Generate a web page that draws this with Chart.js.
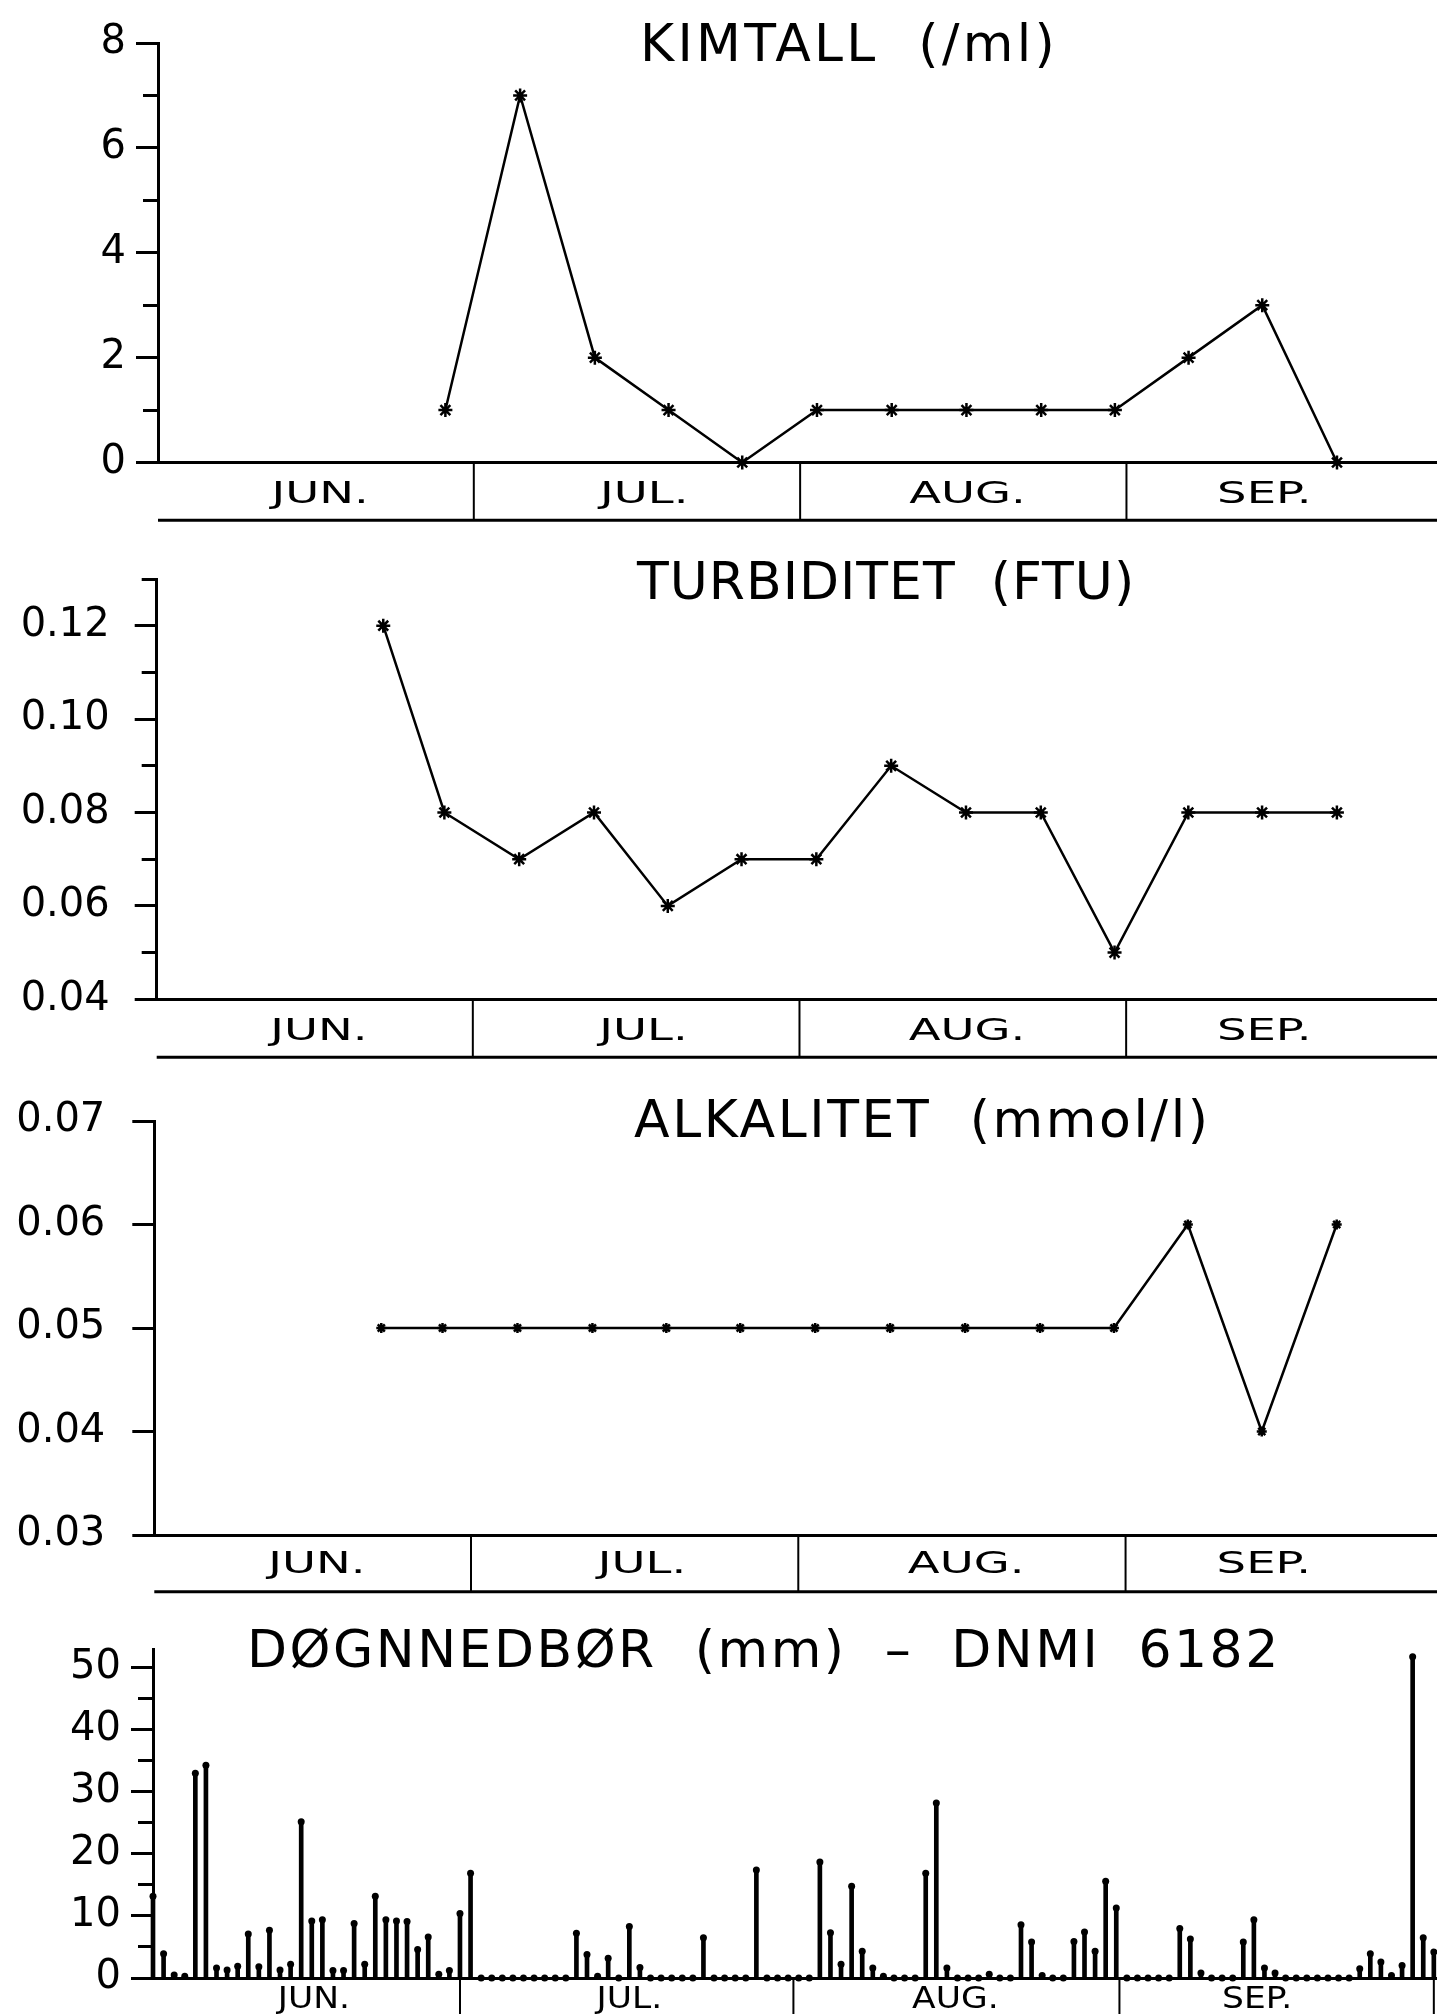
<!DOCTYPE html>
<html>
<head>
<meta charset="utf-8">
<title>Kimtall, turbiditet, alkalitet og døgnnedbør</title>
<script src="https://cdn.jsdelivr.net/npm/chart.js@4.4.1/dist/chart.umd.min.js"></script>
<style>
  html, body { margin: 0; padding: 0; background: #fff; overflow: hidden; }
  #page { position: relative; width: 1437px; height: 2014px; }
  canvas { position: absolute; left: 0; }
</style>
</head>
<body>
<div id="page">
  <canvas id="kimtallChart" width="1437" height="530" style="top:0px"></canvas>
  <canvas id="turbChart" width="1437" height="540" style="top:530px"></canvas>
  <canvas id="alkChart" width="1437" height="540" style="top:1070px"></canvas>
  <canvas id="rainChart" width="1437" height="404" style="top:1610px"></canvas>
</div>
<script>
// prøvedager (dager etter 1. juni)
const sampleDays = [21.5, 27.3, 34.4, 41.5, 48.5, 55.5, 62.6, 69.7, 76.8, 83.9, 90.9, 97.9, 104.9, 112.0];
const kimtall    = [null, 1, 7, 2, 1, 0, 1, 1, 1, 1, 1, 2, 3, 0];
const turbiditet = [0.12, 0.08, 0.07, 0.08, 0.06, 0.07, 0.07, 0.09, 0.08, 0.08, 0.05, 0.08, 0.08, 0.08];
const alkalitet  = [0.05, 0.05, 0.05, 0.05, 0.05, 0.05, 0.05, 0.05, 0.05, 0.05, 0.05, 0.06, 0.04, 0.06];

// månedsrad
const months = ['JUN.', 'JUL.', 'AUG.', 'SEP.'];
const monthEnds = [30, 61, 92];
const monthLabelDays = [15.4, 46.2, 76.9, 105.1];

// y-akser
const kimMajor = [0, 2, 4, 6, 8];
const kimMinor = [1, 3, 5, 7];
const turbMajor = [0.04, 0.06, 0.08, 0.10, 0.12];
const turbMinor = [0.05, 0.07, 0.09, 0.11, 0.13];
const alkMajor = [0.03, 0.04, 0.05, 0.06, 0.07];
const alkMinor = [];
const rainMajor = [0, 10, 20, 30, 40, 50];
const rainMinor = [5, 15, 25, 35, 45];

// døgnnedbør (mm), dag 1 = 1. juni
const rainJun = [13.2, 3.9, 0.5, 0.3, 33.0, 34.3, 1.6, 1.3, 1.9, 7.1, 1.8, 7.7, 1.3, 2.2, 25.2,
                 9.2, 9.4, 1.2, 1.2, 8.8, 2.2, 13.2, 9.4, 9.2, 9.1, 4.6, 6.6, 0.6, 1.2, 10.4];
const rainJul = [16.9, 0, 0, 0, 0, 0, 0, 0, 0, 0, 7.2, 3.8, 0.3, 3.2, 0, 8.3,
                 1.7, 0, 0, 0, 0, 0, 6.5, 0, 0, 0, 0, 17.4, 0, 0, 0];
const rainAug = [0, 0, 18.7, 7.3, 2.2, 14.8, 4.3, 1.6, 0.3, 0, 0, 0, 16.9, 28.2, 1.6, 0,
                 0, 0, 0.6, 0, 0, 8.6, 5.8, 0.4, 0, 0, 5.9, 7.4, 4.3, 15.6, 11.3];
const rainSep = [0, 0, 0, 0, 0, 8.0, 6.3, 0.8, 0, 0, 0, 5.8, 9.4, 1.6, 0.8,
                 0, 0, 0, 0, 0, 0, 0, 1.5, 3.9, 2.6, 0.4, 2.0, 51.8, 6.5, 4.2];
const rainMonthEnds = [30, 61.5, 92.3, 122];
const rainLabelDays = [16.2, 46, 76.8, 105.3];

const FONT = '"DejaVu Sans", "Liberation Sans", sans-serif';
Chart.defaults.font.family = FONT;
Chart.defaults.color = '#000';

// tittel tegnet inne i plottet
const plotTitle = {
    id: 'plotTitle',
    afterDraw(chart, args, opts) {
        const ctx = chart.ctx;
        ctx.save();
        ctx.font = opts.size + 'px ' + FONT;
        ctx.fillStyle = '#000';
        ctx.textAlign = 'left';
        ctx.textBaseline = 'alphabetic';
        ctx.letterSpacing = opts.spacing + 'px';
        ctx.fillText(opts.text, opts.x, opts.y);
        ctx.restore();
    }
};

// rad med månedsnavn under x-aksen
const monthRow = {
    id: 'monthRow',
    afterDraw(chart, args, opts) {
        const ctx = chart.ctx;
        const area = chart.chartArea;
        const x = chart.scales.x;
        const top = area.bottom;
        const bottom = area.bottom + opts.height;
        ctx.save();
        ctx.strokeStyle = '#000';
        if (opts.bottomLine) {
            ctx.lineWidth = 3;
            ctx.beginPath();
            ctx.moveTo(area.left, bottom);
            ctx.lineTo(area.right, bottom);
            ctx.stroke();
        }
        ctx.lineWidth = 2;
        opts.ends.forEach(d => {
            const px = x.getPixelForValue(d);
            ctx.beginPath();
            ctx.moveTo(px, top);
            ctx.lineTo(px, bottom);
            ctx.stroke();
        });
        ctx.fillStyle = '#000';
        ctx.font = '30px ' + FONT;
        ctx.textAlign = 'center';
        ctx.textBaseline = 'alphabetic';
        opts.labels.forEach((t, i) => {
            const px = x.getPixelForValue(opts.labelDays[i]);
            ctx.save();
            ctx.translate(px, top + opts.baseline);
            ctx.scale(opts.stretch, 1);
            ctx.fillText(t, 0, 0);
            ctx.restore();
        });
        ctx.restore();
    }
};

function isIn(list, v) {
    return list.some(m => Math.abs(m - v) < 1e-9);
}

function yAxis(min, max, major, minor, fmt, width, pad) {
    const all = major.concat(minor).sort((a, b) => a - b);
    return {
        min: min,
        max: max,
        afterFit: s => { s.width = width; },
        afterBuildTicks: s => { s.ticks = all.map(v => ({ value: v })); },
        ticks: {
            autoSkip: false,
            padding: pad,
            color: '#000',
            font: { size: 40 },
            callback: v => isIn(major, v) ? fmt(v) : ''
        },
        grid: {
            drawOnChartArea: false,
            tickLength: 22,
            tickWidth: 3,
            tickColor: '#000',
            // kortere merker for mellomverdiene
            tickBorderDash: c => (c.tick && isIn(minor, c.tick.value)) ? [0, 7, 40] : []
        },
        border: { color: '#000', width: 3 }
    };
}

function xAxis(min, max) {
    return {
        type: 'linear',
        min: min,
        max: max,
        offset: false,
        afterFit: s => { s.height = 0; },
        ticks: { display: false },
        grid: { display: true, drawOnChartArea: false, drawTicks: false, offset: false },
        border: { color: '#000', width: 3 }
    };
}

function lineSet(values, radius) {
    return {
        data: sampleDays.map((d, i) => ({ x: d, y: values[i] })).filter(p => p.y !== null),
        showLine: true,
        borderColor: '#000',
        borderWidth: 2.5,
        tension: 0,
        pointStyle: 'star',
        pointRadius: radius,
        pointBorderWidth: 2.5,
        pointBorderColor: '#000',
        pointBackgroundColor: '#000',
        clip: false
    };
}

function sampleChart(id, values, radius, y, padTop, padBottom, title, row) {
    return new Chart(document.getElementById(id), {
        type: 'scatter',
        data: { datasets: [lineSet(values, radius)] },
        options: {
            responsive: false,
            animation: false,
            devicePixelRatio: 1,
            events: [],
            layout: { autoPadding: false, padding: { top: padTop, bottom: padBottom, left: 0, right: 0 } },
            scales: { x: xAxis(0, 121.5), y: y },
            plugins: {
                legend: { display: false },
                tooltip: { enabled: false },
                plotTitle: title,
                monthRow: row
            }
        },
        plugins: [plotTitle, monthRow]
    });
}

const topRow = (height, baseline) => ({
    labels: months, labelDays: monthLabelDays, ends: monthEnds,
    height: height, baseline: baseline, stretch: 1.55, bottomLine: true
});

sampleChart('kimtallChart', kimtall, 7,
    yAxis(0, 8, kimMajor, kimMinor, v => String(v), 158, 10),
    43, 67.5,
    { text: 'KIMTALL  (/ml)', x: 640, y: 61, size: 52, spacing: 3.3 },
    topRow(57.8, 40.5));

sampleChart('turbChart', turbiditet, 7,
    yAxis(0.04, 0.13, turbMajor, turbMinor, v => v.toFixed(2), 156.7, 25),
    48.3, 70.7,
    { text: 'TURBIDITET  (FTU)', x: 637, y: 68.5, size: 52, spacing: 1 },
    topRow(58, 40.7));

sampleChart('alkChart', alkalitet, 5,
    yAxis(0.03, 0.07, alkMajor, alkMinor, v => v.toFixed(2), 154.3, 27),
    44.3, 75,
    { text: 'ALKALITET  (mmol/l)', x: 634, y: 66.5, size: 52, spacing: 2.6 },
    topRow(56.7, 38.3));

// døgnnedbør
const rainDaily = rainJun.concat(rainJul, rainAug, rainSep);
const rainPoints = rainDaily.map((v, i) => ({ x: i + 1, y: v }));

new Chart(document.getElementById('rainChart'), {
    type: 'bar',
    data: {
        datasets: [
            {
                type: 'bar',
                data: rainPoints,
                backgroundColor: '#000',
                borderWidth: 0,
                barThickness: 4,
                grouped: false,
                clip: false
            },
            {
                type: 'scatter',
                data: rainPoints,
                pointStyle: 'circle',
                pointRadius: 3.5,
                pointBorderWidth: 0,
                pointBackgroundColor: '#000',
                clip: false
            }
        ]
    },
    options: {
        responsive: false,
        animation: false,
        devicePixelRatio: 1,
        events: [],
        layout: { autoPadding: false, padding: { top: 39.3, bottom: 36, left: 0, right: 0 } },
        scales: {
            x: xAxis(1, 122.3),
            y: yAxis(0, 53, rainMajor, rainMinor, v => String(v), 153, 10)
        },
        plugins: {
            legend: { display: false },
            tooltip: { enabled: false },
            plotTitle: { text: 'DØGNNEDBØR  (mm)  –  DNMI  6182', x: 247, y: 56.7, size: 52, spacing: 2.5 },
            monthRow: {
                labels: months, labelDays: rainLabelDays, ends: rainMonthEnds,
                height: 36, baseline: 30.3, stretch: 1.15, bottomLine: false
            }
        }
    },
    plugins: [plotTitle, monthRow]
});
</script>
</body>
</html>
